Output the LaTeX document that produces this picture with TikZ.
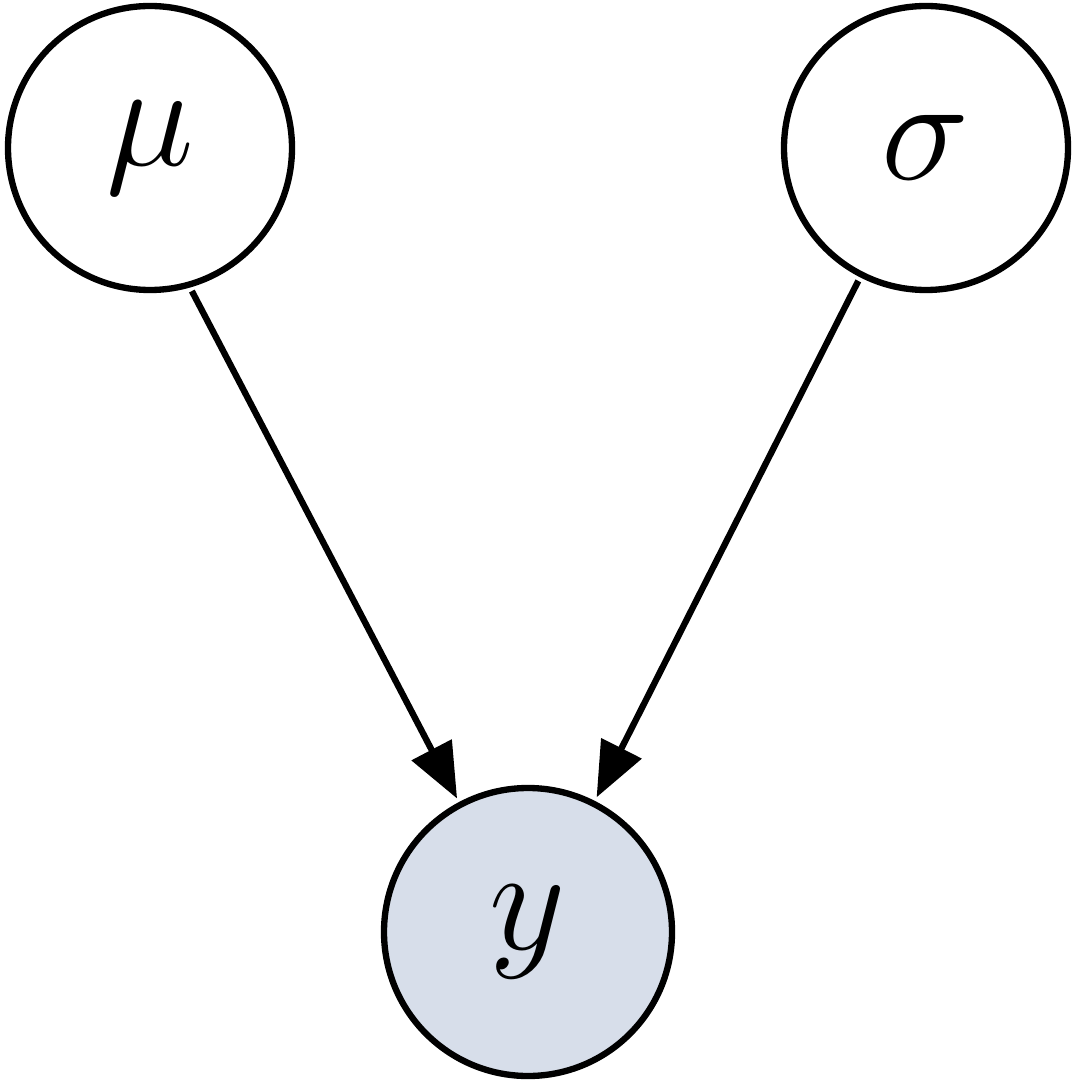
\documentclass[tikz,border=0pt]{standalone}
\usepackage{graphicx}
\usepackage{tikz}
\usetikzlibrary{arrows.meta, positioning}
\definecolor{obsfill}{HTML}{D7DEEA}
\newcommand{\bigsym}[1]{\scalebox{1.7}{\Huge$#1$}}

\begin{document}
\begin{tikzpicture}[
    latent/.style={circle, draw=black, line width=1.8pt, minimum size=2.84cm, inner sep=0pt},
    observed/.style={latent, fill=obsfill, minimum size=2.88cm},
    edge/.style={-{Triangle[length=0.55cm, width=0.44cm]}, line width=1.8pt, shorten <=0.04cm, shorten >=0.04cm}
]
\useasboundingbox (0,0) rectangle (10.76,-10.80);

% Nodes
\node[latent] (mu) at (1.50,-1.48) {\bigsym{\mu}};
\node[latent] (sigma) at (9.26,-1.48) {\bigsym{\sigma}};
\node[observed] (y) at (5.28,-9.32) {\bigsym{y}};

% Edges
\draw[edge] (mu.-74) -- (y.118);
\draw[edge] (sigma.-117) -- (y.63);

\end{tikzpicture}
\end{document}
